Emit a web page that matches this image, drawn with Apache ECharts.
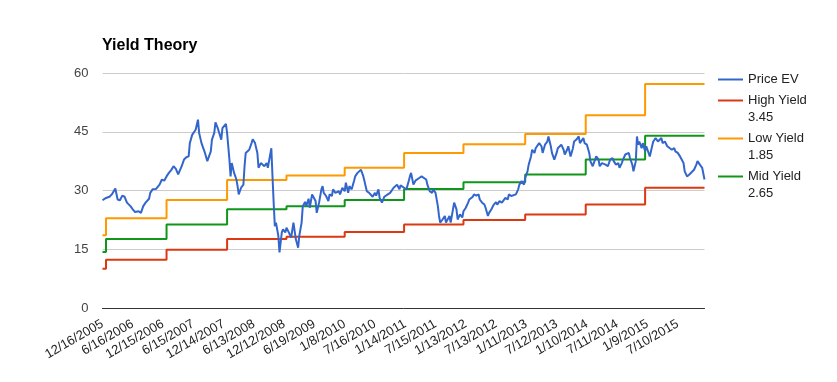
<!DOCTYPE html>
<html>
<head>
<meta charset="utf-8">
<script src="https://cdn.jsdelivr.net/npm/echarts@6/dist/echarts.min.js"></script>
<style>html,body{margin:0;padding:0;background:#fff}#c{width:837px;height:382px}</style>
</head>
<body>
<div id="c"></div>
<script>
// ---- data ----
const tickLabels = ['12/16/2005','6/16/2006','12/15/2006','6/15/2007','12/14/2007','6/13/2008','12/12/2008','6/19/2009','1/8/2010','7/16/2010','1/14/2011','7/15/2011','1/13/2012','7/13/2012','1/11/2013','7/12/2013','1/10/2014','7/11/2014','1/9/2015','7/10/2015'];
const weekCount = 518; // weekly data points
const ticksEvery = 26;

const seriesNames = ['Price EV', 'High Yield', 'Low Yield', 'Mid Yield'];
const yieldLabels = { 'High Yield': '3.45', 'Low Yield': '1.85', 'Mid Yield': '2.65' };

// price: week index and value
const priceWeek = [0,3,6,8,11,13,15,17,19,21,24,26,28,31,33,35,37,40,41,43,46,49,51,53,55,57,59,61,63,65,68,70,72,74,75,77,78,80,81,82,83,85,88,90,93,94,96,97,99,100,102,103,106,107,109,110,111,113,115,116,117,119,121,122,123,126,128,129,131,133,134,136,137,139,141,142,145,146,147,148,149,151,152,154,155,157,158,160,162,164,166,168,169,171,172,174,175,177,178,180,183,184,186,188,189,190,192,194,195,197,198,200,203,204,206,208,209,211,212,214,216,217,219,222,223,224,225,226,227,229,230,232,234,235,237,238,240,242,243,245,247,248,250,251,253,255,256,259,261,263,264,265,267,269,270,272,274,275,278,279,281,283,284,286,288,289,290,292,294,295,298,299,301,302,304,305,307,309,310,312,314,315,318,319,321,323,324,326,328,329,331,332,334,336,338,339,341,343,344,346,348,349,351,352,355,357,358,360,362,363,365,366,368,369,371,372,375,377,378,380,382,383,385,386,388,390,391,394,396,397,399,400,402,404,405,407,409,410,413,414,416,418,419,421,423,424,426,427,429,432,433,434,436,438,439,441,443,444,446,447,449,452,453,455,456,458,459,460,461,463,464,466,467,470,472,473,475,477,478,480,481,483,485,486,489,491,492,494,496,497,499,500,502,504,505,508,510,511,513,514,515,517];
const priceEV = [27.5,28.1,28.4,29.0,30.5,27.7,27.5,28.7,28.4,26.9,26.0,25.2,24.5,24.7,24.3,26.0,26.9,27.9,29.4,30.3,30.4,31.5,32.8,32.5,33.6,34.5,35.2,36.2,35.5,34.1,36.2,37.9,38.5,38.7,42.1,44.2,44.5,45.5,46.8,48.1,44.7,42.1,39.6,37.5,40.0,43.0,44.7,47.4,45.9,46.4,43.0,45.9,47.0,44.7,37.9,33.6,37.0,34.5,32.8,31.1,29.0,30.7,31.5,36.2,39.6,40.4,42.1,43.1,42.1,39.6,35.8,37.0,37.5,36.2,37.0,35.8,40.8,33.6,26.9,20.9,21.8,18.4,14.2,19.3,20.1,19.3,20.5,19.3,18.0,21.8,17.6,15.4,18.4,21.8,26.0,27.1,26.0,27.9,25.6,29.0,27.3,24.3,26.9,30.3,31.1,29.4,28.6,27.3,29.0,28.6,30.3,29.4,29.8,29.0,30.7,29.8,32.0,29.4,31.1,30.3,32.4,33.6,34.5,35.3,35.8,33.6,32.4,31.1,29.8,29.4,29.8,28.4,29.4,28.7,30.3,28.1,26.9,28.4,28.7,29.0,29.4,29.6,30.7,30.3,31.5,30.3,31.3,30.7,30.3,32.4,33.6,34.5,31.5,32.6,32.8,33.2,33.6,34.1,32.8,31.5,29.8,29.4,30.3,29.4,26.0,23.5,21.8,22.6,23.5,21.8,23.5,21.8,25.2,26.9,25.2,22.6,23.9,23.1,24.7,25.6,26.9,27.7,28.4,29.0,28.7,29.0,27.7,26.9,26.4,25.6,23.5,24.3,25.2,26.4,27.0,26.4,27.3,26.9,27.2,28.1,27.7,29.0,28.6,28.1,29.0,30.3,31.5,32.4,31.5,33.2,34.9,36.6,38.7,40.4,39.6,40.8,42.1,41.3,39.6,41.7,42.5,43.8,41.3,39.6,37.9,39.6,40.8,41.7,40.4,39.2,40.4,41.3,38.7,40.8,42.5,43.0,43.8,42.1,43.4,42.1,41.7,39.6,37.5,36.2,37.9,38.7,37.9,36.2,37.0,36.6,37.0,36.2,37.9,38.3,37.5,36.6,37.0,35.8,37.0,37.9,39.2,39.6,38.3,36.6,34.9,37.5,43.8,41.7,42.5,40.8,42.1,40.0,41.3,38.7,41.3,42.5,43.4,42.5,42.1,43.4,42.1,42.5,41.3,41.4,40.4,40.8,40.0,39.6,38.7,38.3,37.0,34.9,33.6,34.1,33.6,35.3,36.6,37.5,36.6,36.2,35.8,32.8];

// yield price levels change at these week indexes (last entry = end of data)
const stepWeek = [0, 3, 55, 107, 158, 208, 259, 310, 363, 415, 466, 517];
const highYield = [10.0, 12.3, 14.9, 17.6, 18.2, 19.4, 21.3, 22.5, 23.9, 26.4, 30.7, 30.7];
const lowYield  = [18.6, 22.9, 27.6, 32.7, 33.8, 35.8, 39.6, 41.8, 44.4, 49.2, 57.2, 57.2];
const midYield  = [14.3, 17.6, 21.3, 25.2, 26.0, 27.6, 30.4, 32.1, 34.1, 37.9, 44.0, 44.0];

const colors = ['#3366cc', '#dc3912', '#ff9900', '#109618'];

// ---- build ----
const categories = [];
for (let i = 0; i < weekCount; i++) {
  categories.push(i % ticksEvery === 0 && tickLabels[i / ticksEvery] ? tickLabels[i / ticksEvery] : 'w' + i);
}
const pair = (xs, ys) => xs.map((x, i) => [x, ys[i]]);
const font = 'Arial, "Liberation Sans", sans-serif';

const chart = echarts.init(document.getElementById('c'), null, { renderer: 'canvas' });
chart.setOption({
  animation: false,
  color: colors,
  title: {
    text: 'Yield Theory', left: 102, top: 38, padding: 0,
    textStyle: { fontSize: 16, fontWeight: 'bold', color: '#000', fontFamily: font }
  },
  legend: {
    orient: 'vertical', left: 718, top: 71, padding: 0,
    icon: 'rect', itemWidth: 25, itemHeight: 2, itemGap: -13,
    data: seriesNames,
    formatter: n => yieldLabels[n] ? '\n' + n + '\n' + yieldLabels[n] : n,
    textStyle: { fontSize: 13, lineHeight: 17, color: '#222', fontFamily: font }
  },
  grid: { left: 102.5, right: 132.5, top: 73, bottom: 74, containLabel: false },
  xAxis: {
    type: 'category', data: categories, boundaryGap: false,
    axisLine: { lineStyle: { color: '#333', width: 1 } },
    axisTick: { show: false },
    axisLabel: { interval: ticksEvery - 1, rotate: 30, margin: 15, fontSize: 13, color: '#222', fontFamily: font },
    splitLine: { show: false }
  },
  yAxis: {
    type: 'value', min: 0, max: 60, interval: 15,
    axisLine: { show: false }, axisTick: { show: false },
    axisLabel: { fontSize: 13, color: '#444', margin: 14, fontFamily: font },
    splitLine: { lineStyle: { color: '#cccccc', width: 1 } }
  },
  series: [
    { name: 'Price EV', type: 'line', data: pair(priceWeek, priceEV), showSymbol: false, lineStyle: { width: 2 }, z: 5 },
    { name: 'High Yield', type: 'line', step: 'end', data: pair(stepWeek, highYield), showSymbol: false, lineStyle: { width: 2 } },
    { name: 'Low Yield', type: 'line', step: 'end', data: pair(stepWeek, lowYield), showSymbol: false, lineStyle: { width: 2 } },
    { name: 'Mid Yield', type: 'line', step: 'end', data: pair(stepWeek, midYield), showSymbol: false, lineStyle: { width: 2 } }
  ]
});
</script>
</body>
</html>
